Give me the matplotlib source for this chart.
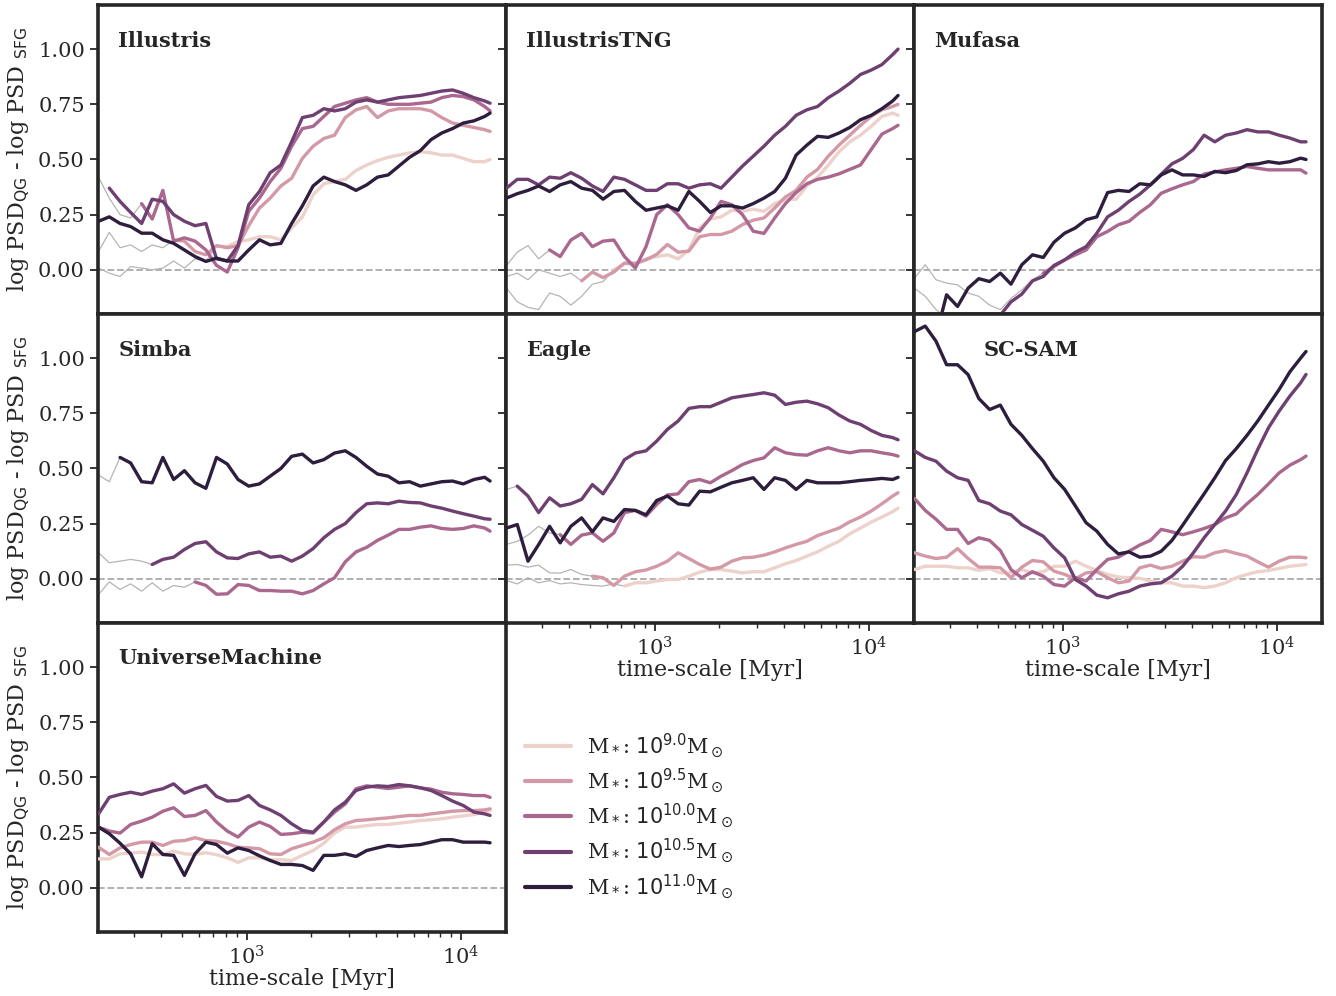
import numpy as np
import matplotlib
matplotlib.use("Agg")
import matplotlib.pyplot as plt
from matplotlib.lines import Line2D
import seaborn as sns

# time-scale grid the curves were read on [Myr]
TIMESCALE_MYR = [204, 229, 257, 288, 324, 363, 407, 457, 513, 575, 646, 724, 813, 912,
                 1023, 1148, 1288, 1445, 1622, 1820, 2042, 2291, 2570, 2884, 3236, 3631,
                 4074, 4571, 5129, 5754, 6457, 7244, 8128, 9120, 10230, 11480, 12880, 13650]

MASS_BINS = ["9.0", "9.5", "10.0", "10.5", "11.0"]
SIMULATIONS = ["Illustris", "IllustrisTNG", "Mufasa", "Simba", "Eagle", "SC-SAM", "UniverseMachine"]

# ---- Illustris
ill_m90 = [None] * 11 + [0.106, 0.106, 0.128, 0.136, 0.15, 0.15, 0.136, 0.19, 0.24, 0.34, 0.39, 0.40, 0.41,
                         0.45, 0.475, 0.495, 0.51, 0.52, 0.53, 0.535, 0.53, 0.52, 0.52, 0.505, 0.49, 0.49, 0.50]
ill_m95 = [None] * 7 + [0.135, 0.13, 0.083, 0.068, 0.11, 0.10, 0.11, 0.20, 0.28, 0.325, 0.38, 0.415, 0.505,
                        0.56, 0.595, 0.61, 0.69, 0.725, 0.74, 0.69, 0.72, 0.73, 0.73, 0.73, 0.72, 0.69, 0.665,
                        0.655, 0.645, 0.635, 0.627]
ill_m100 = [None] * 4 + [0.30, 0.23, 0.36, 0.13, 0.145, 0.13, 0.09, 0.02, -0.01, 0.10, 0.265, 0.325, 0.40,
                         0.46, 0.56, 0.64, 0.65, 0.695, 0.74, 0.755, 0.77, 0.78, 0.76, 0.75, 0.75, 0.75, 0.755,
                         0.76, 0.78, 0.79, 0.785, 0.77, 0.74, 0.72]
ill_m105 = [None] + [0.37, 0.31, 0.26, 0.21, 0.32, 0.31, 0.25, 0.22, 0.20, 0.21, 0.05, 0.04, 0.11, 0.295,
                     0.355, 0.44, 0.475, 0.58, 0.69, 0.70, 0.73, 0.72, 0.73, 0.76, 0.77, 0.76, 0.77, 0.78,
                     0.785, 0.79, 0.80, 0.81, 0.815, 0.80, 0.78, 0.765, 0.755]
ill_m110 = [0.22, 0.24, 0.21, 0.196, 0.166, 0.166, 0.136, 0.12, 0.09, 0.06, 0.038, 0.053, 0.04, 0.04, 0.09,
            0.136, 0.113, 0.12, 0.21, 0.29, 0.38, 0.42, 0.40, 0.385, 0.36, 0.385, 0.42, 0.43, 0.47, 0.51,
            0.54, 0.59, 0.62, 0.64, 0.665, 0.675, 0.695, 0.71]
ill_grey = [[0.42, 0.325, 0.25, 0.235, 0.30],
            [0.083, 0.17, 0.10, 0.113, 0.083, 0.113, 0.10, 0.135],
            [0.008, -0.015, -0.03, 0.015, 0.008, 0.0, 0.008, 0.04, 0.008, 0.05, 0.04, 0.106]]

# ---- IllustrisTNG
tng_m90 = [None] * 10 + [0.0, 0.03, 0.023, 0.05, 0.06, 0.068, 0.05, 0.09, 0.19, 0.23, 0.24, 0.27, 0.265,
                         0.275, 0.265, 0.30, 0.32, 0.32, 0.38, 0.42, 0.475, 0.535, 0.58, 0.61, 0.65, 0.695,
                         0.71, 0.70]
tng_m95 = [None] * 7 + [-0.05, -0.01, -0.035, -0.01, 0.03, 0.03, 0.045, 0.07, 0.115, 0.08, 0.085, 0.15,
                        0.16, 0.16, 0.175, 0.205, 0.225, 0.235, 0.28, 0.33, 0.36, 0.42, 0.455, 0.515, 0.565,
                        0.61, 0.655, 0.695, 0.725, 0.74, 0.75]
tng_m100 = [None] * 4 + [0.09, 0.06, 0.135, 0.165, 0.105, 0.13, 0.135, 0.06, 0.008, 0.105, 0.25, 0.295,
                         0.25, 0.19, 0.175, 0.235, 0.31, 0.295, 0.25, 0.175, 0.165, 0.235, 0.30, 0.35, 0.39,
                         0.41, 0.42, 0.435, 0.455, 0.475, 0.545, 0.615, 0.64, 0.655]
tng_m105 = [0.37, 0.41, 0.41, 0.385, 0.42, 0.415, 0.44, 0.415, 0.38, 0.355, 0.42, 0.41, 0.385, 0.36, 0.36,
            0.39, 0.39, 0.37, 0.385, 0.39, 0.37, 0.42, 0.47, 0.515, 0.56, 0.61, 0.65, 0.70, 0.725, 0.74,
            0.78, 0.81, 0.845, 0.885, 0.905, 0.93, 0.975, 1.0]
tng_m110 = [0.325, 0.345, 0.36, 0.38, 0.355, 0.385, 0.40, 0.37, 0.36, 0.32, 0.355, 0.36, 0.31, 0.27, 0.28,
            0.29, 0.27, 0.355, 0.31, 0.26, 0.29, 0.29, 0.28, 0.30, 0.325, 0.355, 0.415, 0.52, 0.565, 0.605,
            0.60, 0.62, 0.645, 0.68, 0.70, 0.73, 0.765, 0.79]
tng_grey = [[0.02, 0.08, 0.11, 0.05, 0.09],
            [-0.03, -0.015, -0.045, 0.0, -0.015, -0.03, -0.015, -0.05],
            [-0.083, -0.145, -0.17, -0.18, -0.105, -0.12, -0.16, -0.12, -0.065, -0.053, 0.0]]

# ---- Mufasa (no curves for the two lowest mass bins)
muf_m100 = [None] * 12 + [-0.015, 0.015, 0.045, 0.068, 0.09, 0.15, 0.174, 0.204, 0.22, 0.26, 0.295, 0.347,
                          0.367, 0.385, 0.40, 0.434, 0.443, 0.453, 0.46, 0.468, 0.46, 0.453, 0.453, 0.453,
                          0.453, 0.438]
muf_m105 = [None] * 7 + [-0.3, -0.205, -0.145, -0.11, -0.05, -0.03, 0.02, 0.045, 0.08, 0.105, 0.166, 0.24,
                         0.27, 0.31, 0.343, 0.385, 0.433, 0.48, 0.505, 0.545, 0.61, 0.58, 0.61, 0.62, 0.635,
                         0.625, 0.625, 0.61, 0.597, 0.58, 0.58]
muf_m110 = [None] * 2 + [-0.3, -0.113, -0.166, -0.083, -0.04, -0.053, -0.015, -0.065, 0.023, 0.068, 0.056,
                         0.125, 0.166, 0.19, 0.227, 0.24, 0.35, 0.36, 0.355, 0.39, 0.385, 0.43, 0.453, 0.43,
                         0.43, 0.423, 0.446, 0.44, 0.45, 0.476, 0.48, 0.49, 0.483, 0.49, 0.506, 0.50]
muf_grey = [[-0.038, 0.023, -0.045, -0.06, -0.068, -0.105, -0.12, -0.16, -0.18, -0.13, -0.09, -0.045, -0.015],
            [-0.083, -0.12, -0.18, -0.22, -0.3]]

# ---- Simba
sim_m100 = [None] * 9 + [-0.014, -0.03, -0.07, -0.068, -0.026, -0.03, -0.053, -0.053, -0.056, -0.056,
                         -0.068, -0.053, -0.023, 0.005, 0.077, 0.122, 0.143, 0.174, 0.198, 0.224, 0.224,
                         0.234, 0.24, 0.228, 0.224, 0.228, 0.24, 0.23, 0.216]
sim_m105 = [None] * 5 + [0.065, 0.088, 0.098, 0.133, 0.16, 0.168, 0.122, 0.095, 0.092, 0.113, 0.122, 0.098,
                         0.103, 0.08, 0.103, 0.137, 0.186, 0.224, 0.25, 0.30, 0.34, 0.344, 0.34, 0.352, 0.346,
                         0.344, 0.33, 0.32, 0.307, 0.295, 0.284, 0.272, 0.27]
sim_m110 = [None] * 2 + [0.55, 0.525, 0.44, 0.435, 0.55, 0.45, 0.49, 0.435, 0.41, 0.55, 0.52, 0.45, 0.42,
                         0.43, 0.465, 0.50, 0.555, 0.565, 0.525, 0.54, 0.57, 0.58, 0.55, 0.51, 0.475, 0.465,
                         0.435, 0.44, 0.42, 0.43, 0.44, 0.443, 0.43, 0.45, 0.46, 0.443]
sim_grey = [[0.47, 0.44, 0.55],
            [0.118, 0.073, 0.08, 0.088, 0.08, 0.065],
            [-0.071, -0.014, -0.048, -0.023, -0.056, -0.018, -0.056, -0.03, -0.038, -0.014]]

# ---- Eagle
eag_m90 = [None] * 11 + [-0.033, -0.018, -0.018, -0.01, -0.003, -0.003, 0.012, 0.03, 0.042, 0.042, 0.035,
                         0.027, 0.032, 0.032, 0.05, 0.068, 0.083, 0.103, 0.122, 0.148, 0.17, 0.204, 0.23,
                         0.257, 0.28, 0.304, 0.32]
eag_m95 = [None] * 8 + [0.012, 0.005, -0.03, 0.012, 0.032, 0.04, 0.057, 0.08, 0.118, 0.092, 0.065, 0.044,
                        0.053, 0.08, 0.095, 0.098, 0.107, 0.122, 0.14, 0.156, 0.17, 0.196, 0.213, 0.23, 0.258,
                        0.28, 0.307, 0.34, 0.375, 0.39]
eag_m100 = [None] * 5 + [0.20, 0.156, 0.198, 0.208, 0.17, 0.208, 0.30, 0.31, 0.284, 0.337, 0.38, 0.385,
                         0.44, 0.45, 0.435, 0.465, 0.49, 0.518, 0.536, 0.548, 0.594, 0.571, 0.563, 0.56, 0.58,
                         0.594, 0.58, 0.571, 0.58, 0.58, 0.571, 0.563, 0.556]
eag_m105 = [None] + [0.42, 0.375, 0.30, 0.367, 0.33, 0.34, 0.36, 0.427, 0.385, 0.458, 0.54, 0.57, 0.58,
                     0.624, 0.677, 0.715, 0.772, 0.78, 0.78, 0.80, 0.82, 0.828, 0.835, 0.843, 0.832, 0.79,
                     0.80, 0.805, 0.793, 0.775, 0.742, 0.715, 0.70, 0.672, 0.65, 0.64, 0.63]
eag_m110 = [0.23, 0.246, 0.08, 0.155, 0.238, 0.163, 0.238, 0.276, 0.213, 0.276, 0.26, 0.314, 0.31, 0.29,
            0.355, 0.375, 0.34, 0.334, 0.397, 0.394, 0.415, 0.435, 0.446, 0.458, 0.405, 0.458, 0.446, 0.405,
            0.446, 0.435, 0.435, 0.435, 0.44, 0.446, 0.45, 0.455, 0.45, 0.46]
eag_grey = [[0.405, 0.42],
            [0.156, 0.17, 0.198, 0.238, 0.208, 0.20],
            [0.062, 0.065, 0.053, 0.062, 0.027, 0.026, 0.042, 0.02, 0.012],
            [-0.008, -0.023, 0.005, -0.018, -0.008, -0.023, -0.018, -0.026, -0.03, -0.033, -0.023, -0.033]]

# ---- SC-SAM
sam_m90 = [0.042, 0.057, 0.057, 0.057, 0.05, 0.05, 0.038, 0.047, 0.027, 0.027, 0.042, 0.027, 0.032, 0.057,
           0.057, 0.08, 0.057, 0.038, 0.02, 0.008, 0.005, 0.002, -0.01, -0.018, -0.018, -0.033, -0.033,
           -0.04, -0.033, -0.018, 0.005, 0.02, 0.032, 0.038, 0.047, 0.057, 0.062, 0.065]
sam_m95 = [0.118, 0.103, 0.092, 0.098, 0.137, 0.092, 0.053, 0.053, 0.05, 0.005, 0.053, 0.083, 0.077, 0.035,
           0.02, 0.0, 0.027, 0.032, 0.005, -0.018, -0.01, 0.05, 0.062, 0.047, 0.057, 0.08, 0.10, 0.098,
           0.118, 0.128, 0.115, 0.103, 0.077, 0.053, 0.08, 0.098, 0.098, 0.095]
sam_m100 = [0.364, 0.31, 0.27, 0.224, 0.224, 0.16, 0.186, 0.174, 0.128, 0.042, 0.005, 0.032, 0.012, -0.026,
            -0.033, 0.005, -0.01, 0.042, 0.088, 0.098, 0.125, 0.153, 0.174, 0.224, 0.213, 0.20, 0.213,
            0.228, 0.246, 0.276, 0.294, 0.34, 0.382, 0.43, 0.48, 0.515, 0.54, 0.556]
sam_m105 = [0.58, 0.55, 0.533, 0.488, 0.458, 0.446, 0.355, 0.34, 0.307, 0.29, 0.246, 0.22, 0.193, 0.14,
            0.095, -0.003, -0.033, -0.074, -0.086, -0.068, -0.056, -0.033, -0.023, -0.018, 0.012, 0.057,
            0.118, 0.186, 0.246, 0.307, 0.382, 0.48, 0.586, 0.684, 0.76, 0.828, 0.888, 0.926]
sam_m110 = [1.12, 1.145, 1.077, 0.97, 0.97, 0.925, 0.817, 0.767, 0.787, 0.70, 0.65, 0.59, 0.533, 0.458,
            0.405, 0.33, 0.254, 0.216, 0.156, 0.113, 0.122, 0.098, 0.103, 0.125, 0.174, 0.243, 0.314, 0.385,
            0.458, 0.536, 0.59, 0.65, 0.715, 0.787, 0.858, 0.938, 1.0, 1.03]
sam_grey = []

# ---- UniverseMachine
um_m90 = [0.131, 0.131, 0.154, 0.157, 0.162, 0.151, 0.151, 0.166, 0.154, 0.151, 0.159, 0.15, 0.136, 0.115,
          0.136, 0.136, 0.127, 0.127, 0.124, 0.147, 0.169, 0.202, 0.248, 0.275, 0.275, 0.282, 0.287, 0.287,
          0.293, 0.298, 0.305, 0.308, 0.313, 0.32, 0.326, 0.332, 0.343, 0.35]
um_m95 = [0.184, 0.151, 0.181, 0.196, 0.207, 0.207, 0.192, 0.211, 0.214, 0.227, 0.214, 0.211, 0.2, 0.184,
          0.181, 0.177, 0.154, 0.151, 0.177, 0.192, 0.207, 0.227, 0.263, 0.29, 0.305, 0.308, 0.313, 0.317,
          0.323, 0.328, 0.328, 0.335, 0.341, 0.347, 0.35, 0.35, 0.353, 0.358]
um_m100 = [0.275, 0.257, 0.248, 0.287, 0.302, 0.32, 0.347, 0.363, 0.323, 0.328, 0.35, 0.298, 0.257, 0.23,
           0.275, 0.298, 0.278, 0.242, 0.245, 0.252, 0.248, 0.298, 0.343, 0.38, 0.449, 0.462, 0.456, 0.45,
           0.456, 0.462, 0.453, 0.447, 0.433, 0.426, 0.423, 0.418, 0.418, 0.41]
um_m105 = [0.335, 0.41, 0.423, 0.433, 0.423, 0.438, 0.449, 0.471, 0.429, 0.449, 0.464, 0.414, 0.393, 0.396,
           0.418, 0.373, 0.353, 0.328, 0.29, 0.26, 0.252, 0.298, 0.353, 0.388, 0.441, 0.456, 0.462, 0.459,
           0.468, 0.462, 0.453, 0.441, 0.418, 0.393, 0.373, 0.343, 0.335, 0.328]
um_m110 = [0.275, 0.245, 0.202, 0.154, 0.05, 0.2, 0.151, 0.147, 0.056, 0.154, 0.207, 0.196, 0.157, 0.181,
           0.169, 0.145, 0.124, 0.106, 0.106, 0.101, 0.079, 0.147, 0.147, 0.154, 0.142, 0.169, 0.181, 0.192,
           0.187, 0.192, 0.196, 0.207, 0.218, 0.218, 0.207, 0.207, 0.207, 0.204]
um_grey = []

curves = {
    "Illustris": ([ill_m90, ill_m95, ill_m100, ill_m105, ill_m110], ill_grey),
    "IllustrisTNG": ([tng_m90, tng_m95, tng_m100, tng_m105, tng_m110], tng_grey),
    "Mufasa": ([None, None, muf_m100, muf_m105, muf_m110], muf_grey),
    "Simba": ([None, None, sim_m100, sim_m105, sim_m110], sim_grey),
    "Eagle": ([eag_m90, eag_m95, eag_m100, eag_m105, eag_m110], eag_grey),
    "SC-SAM": ([sam_m90, sam_m95, sam_m100, sam_m105, sam_m110], sam_grey),
    "UniverseMachine": ([um_m90, um_m95, um_m100, um_m105, um_m110], um_grey),
}

sns.set_style("ticks")
plt.rcParams["font.family"] = ["DejaVu Serif"]
plt.rcParams["axes.linewidth"] = 2.6
plt.rcParams["axes.edgecolor"] = "#262626"

colors = sns.cubehelix_palette(5)
t = np.array(TIMESCALE_MYR, dtype=float)

fig, axes = plt.subplots(3, 3, figsize=(13.36, 9.96), dpi=100, sharex=True, sharey=True)
fig.subplots_adjust(left=0.0734, right=0.9895, top=0.995, bottom=0.0643, wspace=0, hspace=0)

panel_axes = [axes[0, 0], axes[0, 1], axes[0, 2], axes[1, 0], axes[1, 1], axes[1, 2], axes[2, 0]]

for ax, name in zip(panel_axes, SIMULATIONS):
    lines, greys = curves[name]
    ax.axhline(0, color="#aaaaaa", ls="--", lw=1.3, zorder=1)
    for g in greys:
        ax.plot(t[:len(g)], g, color="#b5b5b5", lw=0.9, zorder=2)
    for vals, col in zip(lines, colors):
        if vals is None:
            continue
        ax.plot(t, np.array(vals, dtype=float), color=col, lw=2.4, zorder=3)
    xt = 0.17 if name == "SC-SAM" else 0.05
    ax.text(xt, 0.885, name, transform=ax.transAxes, fontsize=15, fontweight="bold",
            va="center", color="#262626")

ax0 = axes[0, 0]
ax0.set_xscale("log")
ax0.set_xlim(203, 16200)
ax0.set_ylim(-0.2, 1.2)
ax0.set_yticks([0.0, 0.25, 0.5, 0.75, 1.0])
ax0.set_yticklabels(["0.00", "0.25", "0.50", "0.75", "1.00"])

for ax in axes.flat:
    ax.tick_params(axis="both", which="major", length=6, width=1.3, labelsize=15, colors="#262626")
    ax.tick_params(axis="both", which="minor", length=3.5, width=1.0)
    ax.tick_params(axis="x", bottom=False, which="both")

for ax in [axes[2, 0], axes[1, 1], axes[1, 2]]:
    ax.tick_params(axis="x", which="both", bottom=True, labelbottom=True)
    ax.set_xlabel("time-scale [Myr]", fontsize=16, labelpad=0)

for ax in axes[:, 0]:
    ax.set_ylabel(r"log PSD$_{\rm QG}$ - log PSD $_{\rm SFG}$", fontsize=16, labelpad=4)

axes[2, 1].axis("off")
axes[2, 2].axis("off")

handles = [Line2D([0], [0], color=c, lw=3) for c in colors]
labels = [r"M$_*$: $10^{%s}$M$_\odot$" % m for m in MASS_BINS]
axes[2, 1].legend(handles, labels, loc="center left", bbox_to_anchor=(0.0, 0.375), frameon=False,
                  fontsize=15, handlelength=2.2, labelspacing=0.33)

fig.savefig("out.png", dpi=100)
